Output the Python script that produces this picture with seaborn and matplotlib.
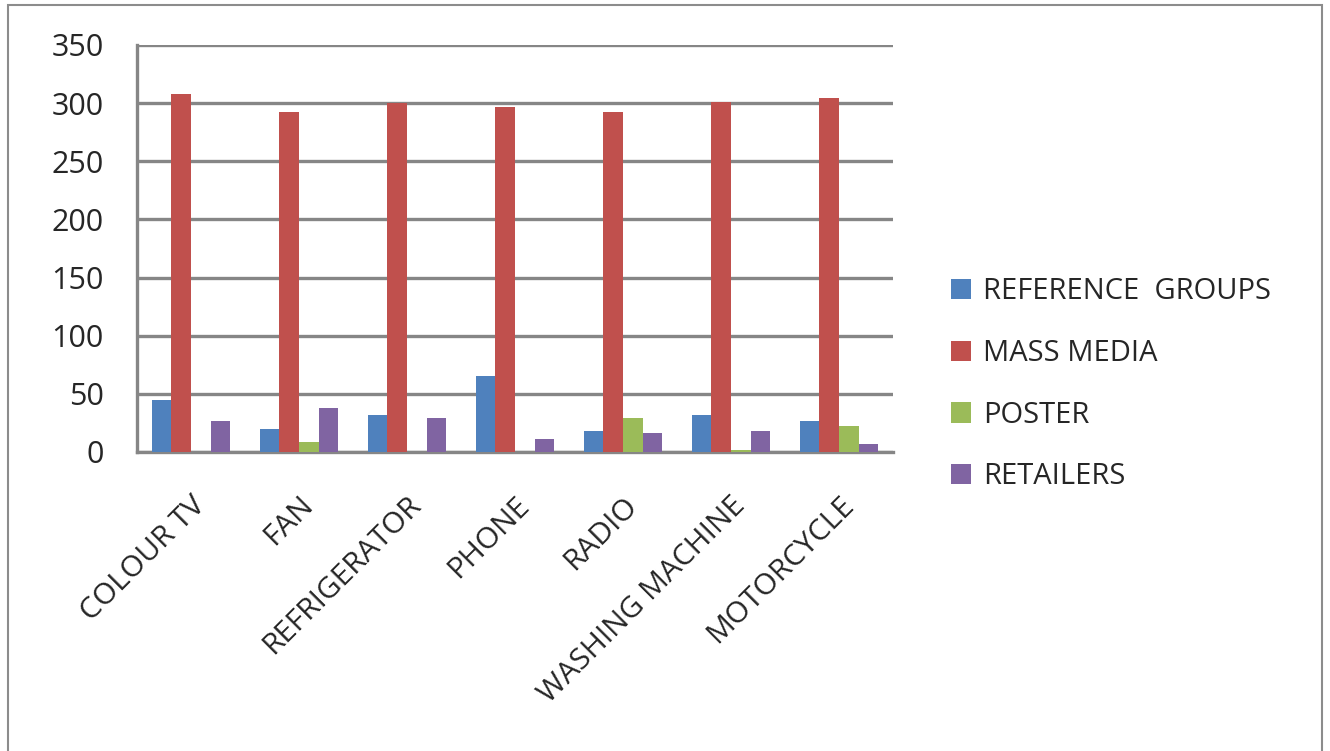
import pandas as pd
import matplotlib
matplotlib.use('Agg')
import matplotlib.pyplot as plt
import seaborn as sns
from matplotlib.patches import Rectangle

# Chart data
categories = ['COLOUR TV', 'FAN', 'REFRIGERATOR', 'PHONE', 'RADIO', 'WASHING MACHINE', 'MOTORCYCLE']
reference_groups = [45, 20, 32, 65, 18, 32, 27]
mass_media = [308, 292, 300, 297, 292, 301, 304]
poster = [0, 9, 0, 0, 29, 2, 22]
retailers = [27, 38, 29, 11, 16, 18, 7]
series_names = ['REFERENCE  GROUPS', 'MASS MEDIA', 'POSTER', 'RETAILERS']
colors = ['#4F81BD', '#C0504D', '#9BBB59', '#8064A2']

# Long form table for seaborn
df = pd.DataFrame({
    'Product': categories * 4,
    'Source': [s for s in series_names for _ in categories],
    'Count': reference_groups + mass_media + poster + retailers,
})

sns.set_style('white')
plt.rcParams['font.family'] = ['Open Sans', 'DejaVu Sans']

fig = plt.figure(figsize=(13.3, 7.51), dpi=100)
ax = fig.add_axes([137 / 1330, 1 - 452 / 751, 756 / 1330, 407 / 751])

sns.barplot(data=df, x='Product', y='Count', hue='Source', palette=colors,
            width=0.73, saturation=1, linewidth=0, ax=ax, zorder=3)

grid_col = '#868686'
ax.set_ylim(0, 350)
ax.set_yticks(range(0, 351, 50))
ax.yaxis.grid(True, color=grid_col, linewidth=2.4, zorder=0)
ax.set_axisbelow(True)
ax.set_xlim(-0.5, len(categories) - 0.5)

for side in ['top', 'right']:
    ax.spines[side].set_visible(False)
for side in ['left', 'bottom']:
    ax.spines[side].set_color(grid_col)
    ax.spines[side].set_linewidth(2.4)

ax.set_xlabel('')
ax.set_ylabel('')
ax.tick_params(axis='y', labelsize=22, length=8, width=2.4, color=grid_col, pad=16)
ax.tick_params(axis='x', which='major', length=0, labelsize=21.5, pad=28)
ax.set_xticks([i - 0.5 for i in range(len(categories) + 1)], minor=True)
ax.tick_params(axis='x', which='minor', length=8, width=2, color=grid_col)
plt.setp(ax.get_xticklabels(), rotation=45, ha='right', rotation_mode='anchor')

ax.legend(loc='center left', bbox_to_anchor=(1.042, 0.166), frameon=False,
          fontsize=21, handlelength=0.7, handleheight=0.7, labelspacing=1.12,
          handletextpad=0.4)

fig.patches.append(Rectangle((8 / 1330, -0.01), 1314 / 1330, 1 - 5 / 751 + 0.01,
                             transform=fig.transFigure, fill=False,
                             edgecolor='#8c8c8c', linewidth=1.5))

fig.savefig('out.png', dpi=100)
